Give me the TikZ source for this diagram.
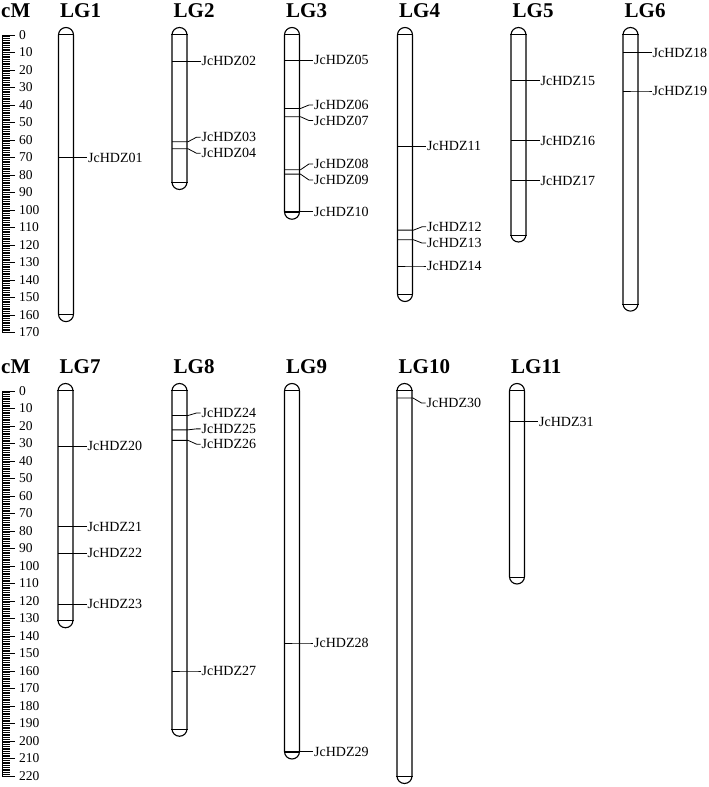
\documentclass[tikz,border=0pt]{standalone}
\usepackage{fontspec}
\setmainfont{Liberation Serif}
\usetikzlibrary{calc}

\tikzset{
  chrom/.style={draw, line width=1.1pt, rounded corners=7.5pt, minimum width=15pt, inner sep=0pt},
  lghead/.style={font=\bfseries\fontsize{21}{21}\selectfont, inner sep=0pt, anchor=base west},
  mlabel/.style={font=\fontsize{14}{14}\selectfont, inner sep=1pt, anchor=west},
  mline/.style={line width=0.8pt},
  num/.style={font=\fontsize{13.5}{13.5}\selectfont, inner sep=1pt, anchor=west},
  tick/.style={line width=0.6pt}
}

% linkage group: name, centre x, y of 0 cM, length (cM), header
\newcommand{\linkgrp}[5]{%
  \node[chrom, minimum height={#4*1.75pt+15pt}] (#1) at (#2,{#3+#4*0.875}) {};
  \draw[line width=1pt] ([yshift=-7.5pt]#1.north west) -- ([yshift=-7.5pt]#1.north east);
  \draw[line width=1pt] ([yshift=7.5pt]#1.south west) -- ([yshift=7.5pt]#1.south east);
  \node[lghead] (#1h) at (#2-6,#3-18) {#5};
}
% marker: id, centre x, y of 0 cM, position (cM), label offset, text
\newcommand{\mrk}[6]{%
  \pgfmathsetmacro\ym{#3+#4*1.75}
  \coordinate (#1l) at (#2-7.5,\ym);
  \coordinate (#1r) at (#2+7.5,\ym);
  \node[mlabel] (#1) at (#2+21,\ym+#5) {#6};
  \draw[mline] (#1l) -- (#1r) -- ++(1,0) -- ($(#1.west)+(-4,0)$) -- (#1.west);
}

\begin{document}
\begin{tikzpicture}[x=1pt, y=-1pt]
  \useasboundingbox (0,0) rectangle (709,787);

  % scale bars
  \node[lghead] (cm1) at (1,17) {cM};
  \draw[tick] (2,35) -- (2,{35+170*1.75});
  \foreach \c in {0,...,170} \draw[tick] (2,{35+\c*1.75}) -- ++(8,0);
  \foreach \c in {0,10,...,170} {
    \draw[tick] (2,{35+\c*1.75}) -- ++(13,0);
    \node[num] (na\c) at (18,{35+\c*1.75}) {\c};
  }
  \node[lghead] (cm2) at (1,373) {cM};
  \draw[tick] (2,391) -- (2,{391+220*1.75});
  \foreach \c in {0,...,220} \draw[tick] (2,{391+\c*1.75}) -- ++(8,0);
  \foreach \c in {0,10,...,220} {
    \draw[tick] (2,{391+\c*1.75}) -- ++(13,0);
    \node[num] (nb\c) at (18,{391+\c*1.75}) {\c};
  }

  % top row
  \linkgrp{lg1}{66}{35}{159.5}{LG1}
  \linkgrp{lg2}{179.5}{35}{84}{LG2}
  \linkgrp{lg3}{292}{35}{101}{LG3}
  \linkgrp{lg4}{405}{35}{148}{LG4}
  \linkgrp{lg5}{518.5}{35}{114}{LG5}
  \linkgrp{lg6}{630.5}{35}{153.5}{LG6}

  \mrk{z01}{66}{35}{70}{0}{JcHDZ01}
  \mrk{z02}{179.5}{35}{15}{0}{JcHDZ02}
  \mrk{z03}{179.5}{35}{61}{-4.5}{JcHDZ03}
  \mrk{z04}{179.5}{35}{65}{4.5}{JcHDZ04}
  \mrk{z05}{292}{35}{14.5}{0}{JcHDZ05}
  \mrk{z06}{292}{35}{42}{-3.5}{JcHDZ06}
  \mrk{z07}{292}{35}{46.7}{3.8}{JcHDZ07}
  \mrk{z08}{292}{35}{77}{-5.8}{JcHDZ08}
  \mrk{z09}{292}{35}{79.5}{5.9}{JcHDZ09}
  \mrk{z10}{292}{35}{101}{0}{JcHDZ10}
  \mrk{z11}{405}{35}{63.5}{0}{JcHDZ11}
  \mrk{z12}{405}{35}{111.5}{-3.3}{JcHDZ12}
  \mrk{z13}{405}{35}{117}{3.3}{JcHDZ13}
  \mrk{z14}{405}{35}{132}{0}{JcHDZ14}
  \mrk{z15}{518.5}{35}{26}{0}{JcHDZ15}
  \mrk{z16}{518.5}{35}{60.5}{0}{JcHDZ16}
  \mrk{z17}{518.5}{35}{83.3}{0}{JcHDZ17}
  \mrk{z18}{630.5}{35}{10}{0}{JcHDZ18}
  \mrk{z19}{630.5}{35}{32}{0}{JcHDZ19}

  % bottom row
  \linkgrp{lg7}{65.5}{391}{131}{LG7}
  \linkgrp{lg8}{179.5}{391}{193}{LG8}
  \linkgrp{lg9}{292}{391}{206}{LG9}
  \linkgrp{lg10}{404.5}{391}{220}{LG10}
  \linkgrp{lg11}{517}{391}{106}{LG11}

  \mrk{z20}{65.5}{391}{31.5}{0}{JcHDZ20}
  \mrk{z21}{65.5}{391}{77.5}{0}{JcHDZ21}
  \mrk{z22}{65.5}{391}{92.8}{0}{JcHDZ22}
  \mrk{z23}{65.5}{391}{121.7}{0}{JcHDZ23}
  \mrk{z24}{179.5}{391}{14}{-2.5}{JcHDZ24}
  \mrk{z25}{179.5}{391}{22.2}{-1}{JcHDZ25}
  \mrk{z26}{179.5}{391}{28.2}{3.8}{JcHDZ26}
  \mrk{z27}{179.5}{391}{160}{0}{JcHDZ27}
  \mrk{z28}{292}{391}{144}{0}{JcHDZ28}
  \mrk{z29}{292}{391}{206}{0}{JcHDZ29}
  \mrk{z30}{404.5}{391}{4}{5}{JcHDZ30}
  \mrk{z31}{517}{391}{17.5}{0}{JcHDZ31}
\end{tikzpicture}
\end{document}
